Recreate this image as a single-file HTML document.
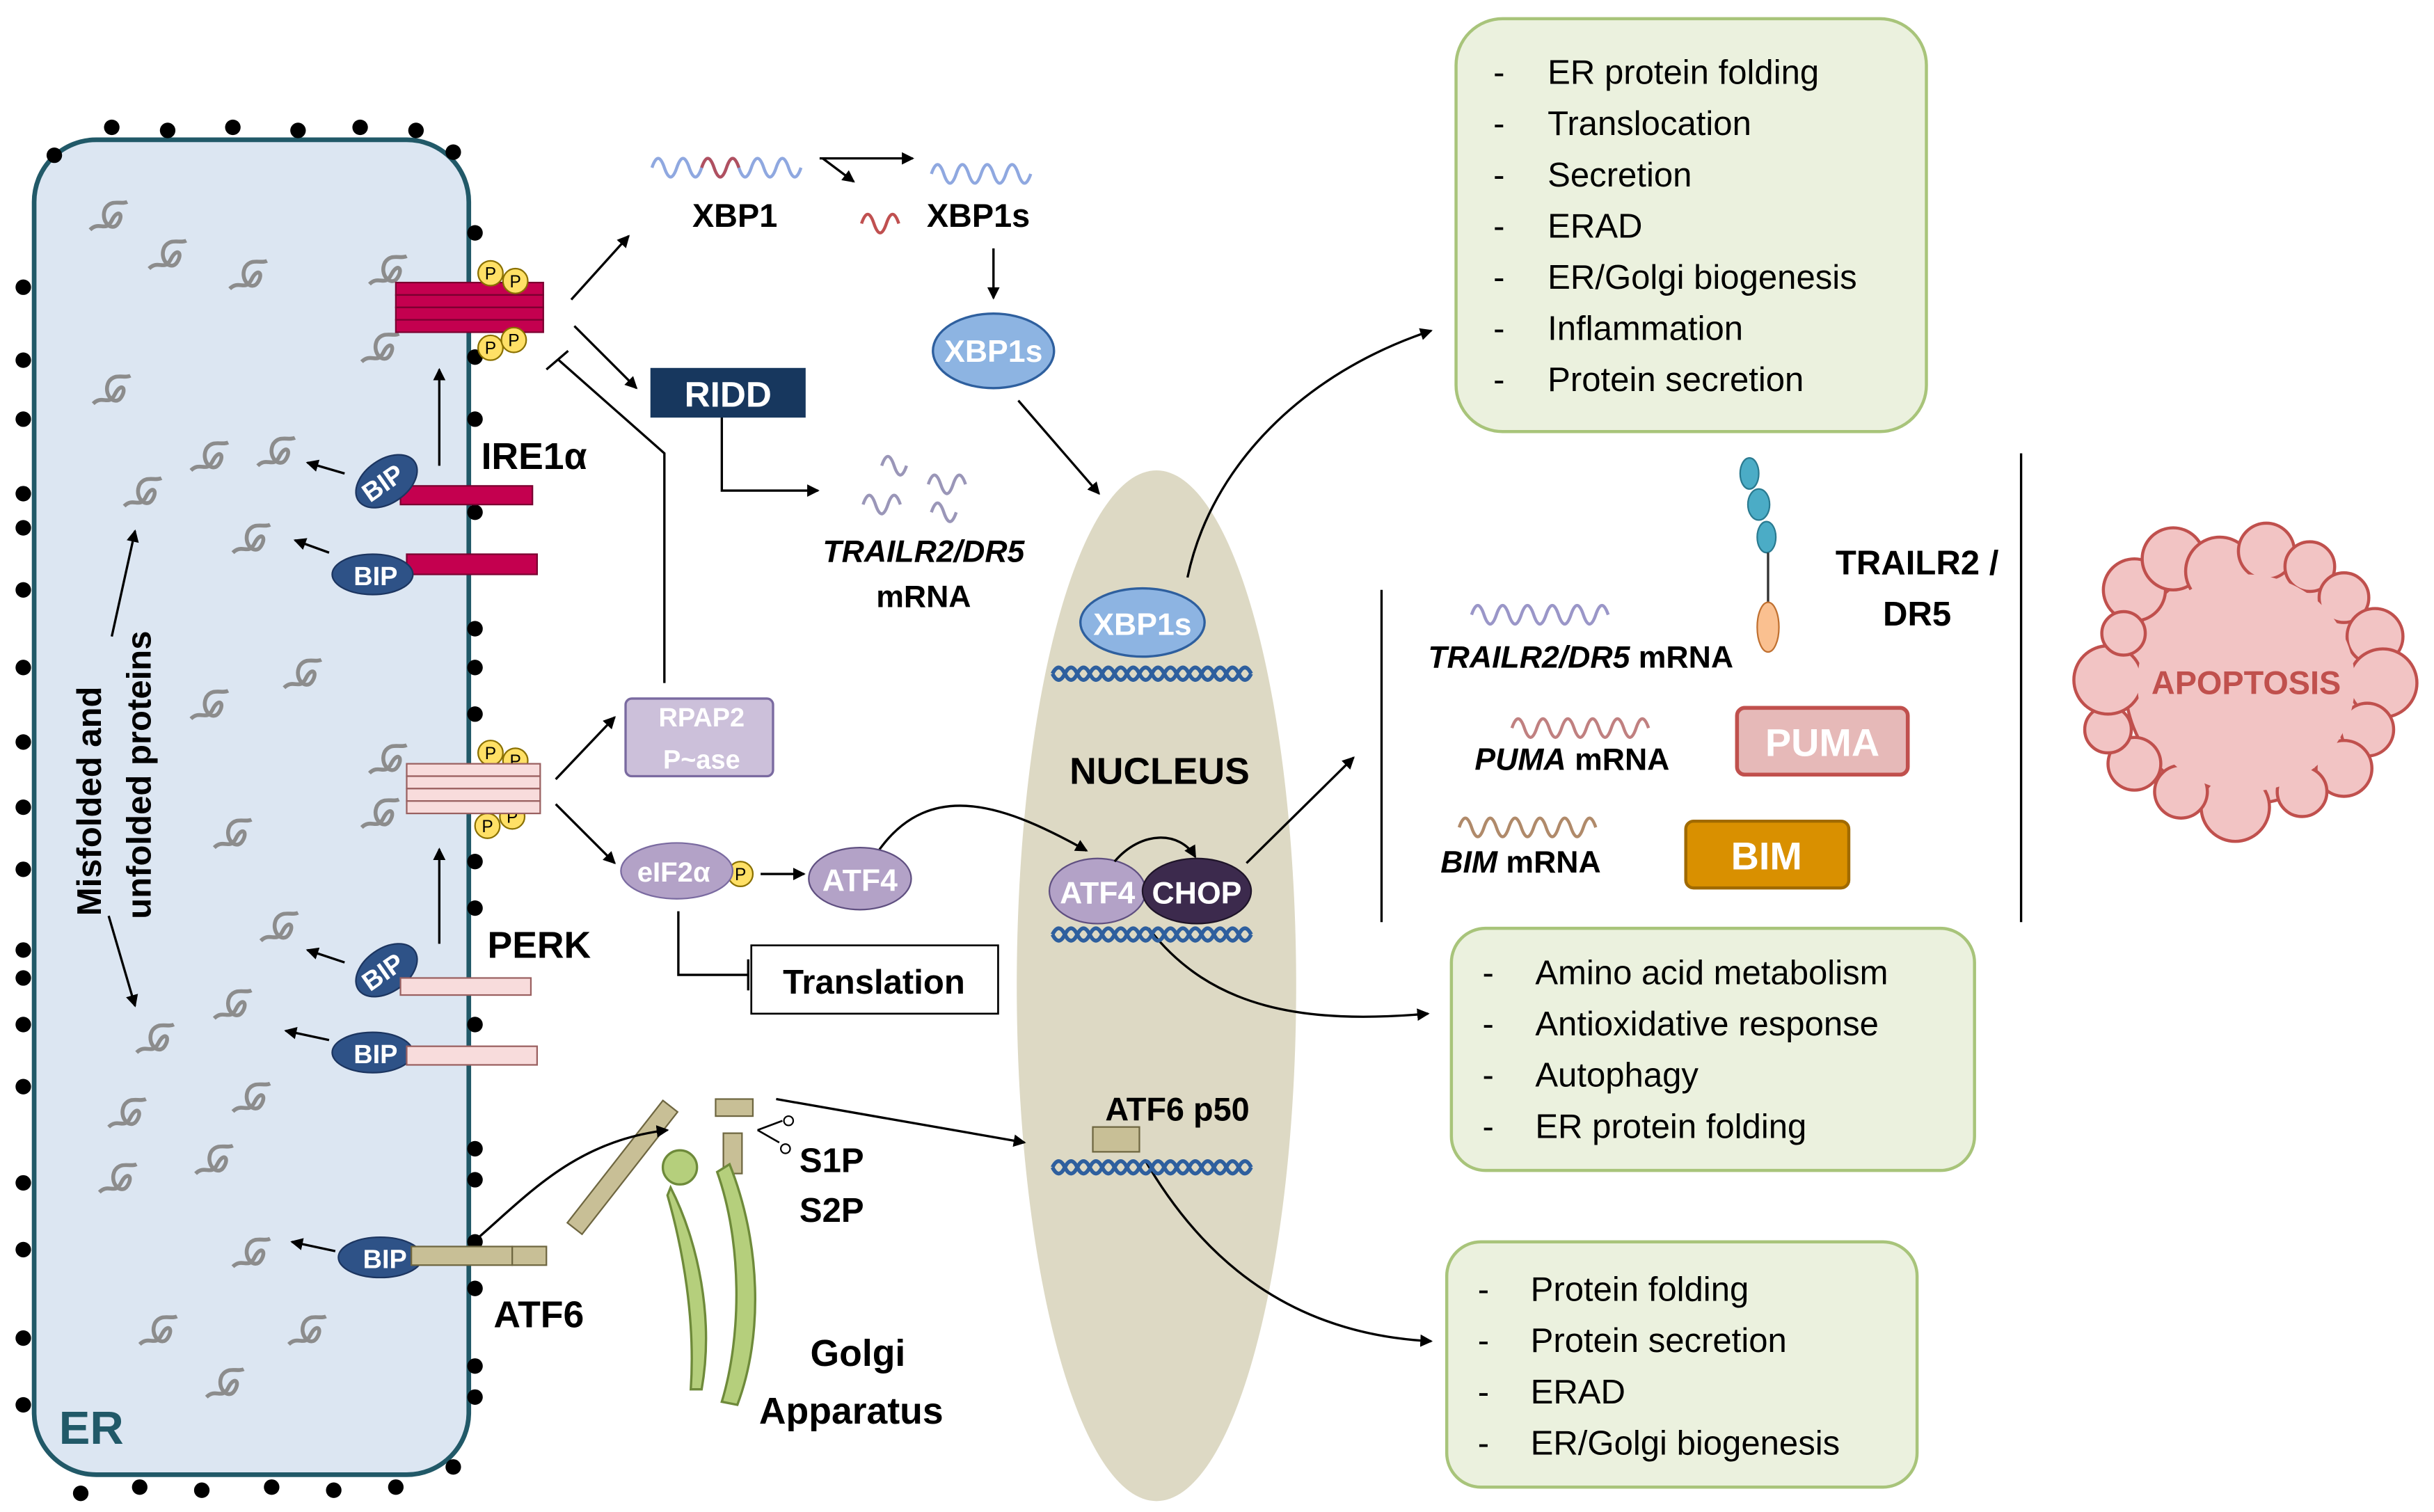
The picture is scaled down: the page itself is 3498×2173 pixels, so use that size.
<!DOCTYPE html>
<html><head><meta charset="utf-8"><style>
html,body{margin:0;padding:0;background:#fff;}
svg{display:block;}
text{font-family:"Liberation Sans",sans-serif;}
</style></head><body>
<svg width="3498" height="2173" viewBox="0 0 1568 974" xmlns="http://www.w3.org/2000/svg">
<defs>
<marker id="a" markerWidth="8" markerHeight="8" refX="7" refY="4" orient="auto" markerUnits="userSpaceOnUse"><path d="M0,0 L8,4 L0,8 z" fill="#000"/></marker>
<g id="sq"><path d="M-12,8 C-6,2 -2,10 2,2 C6,-6 10,-2 6,4 C2,10 -6,2 -2,-6 C2,-12 8,-8 12,-10" fill="none" stroke="#8c8c8c" stroke-width="2.5"/></g>
<g id="dna"><path d="M0,0 q4,-8 8,0 t8,0 t8,0 t8,0 t8,0 t8,0 t8,0 t8,0 t8,0 t8,0 t8,0 t8,0 t8,0 t8,0 t8,0 t8,0" fill="none" stroke="#2e5f9e" stroke-width="2.5"/><path d="M0,0 q4,8 8,0 t8,0 t8,0 t8,0 t8,0 t8,0 t8,0 t8,0 t8,0 t8,0 t8,0 t8,0 t8,0 t8,0 t8,0 t8,0" fill="none" stroke="#2e5f9e" stroke-width="2.5"/></g>
</defs>
<rect width="1568" height="974" fill="#fff"/>
<!-- Nucleus (behind arrows) -->
<ellipse cx="745" cy="635" rx="90" ry="332" fill="#ddd9c4"/>
<!-- ER -->
<rect x="22" y="90" width="280" height="860" rx="40" fill="#dce6f2" stroke="#215968" stroke-width="3"/>
<text x="38" y="930" font-size="30" font-weight="bold" fill="#215968">ER</text>
<g fill="#000">
<circle cx="35" cy="100" r="5"/><circle cx="72" cy="82" r="5"/><circle cx="108" cy="84" r="5"/><circle cx="150" cy="82" r="5"/><circle cx="192" cy="84" r="5"/><circle cx="232" cy="82" r="5"/><circle cx="268" cy="84" r="5"/><circle cx="292" cy="98" r="5"/>
<circle cx="15" cy="185" r="5"/><circle cx="15" cy="232" r="5"/><circle cx="15" cy="270" r="5"/><circle cx="15" cy="318" r="5"/><circle cx="15" cy="340" r="5"/><circle cx="15" cy="380" r="5"/><circle cx="15" cy="430" r="5"/><circle cx="15" cy="478" r="5"/><circle cx="15" cy="520" r="5"/><circle cx="15" cy="560" r="5"/><circle cx="15" cy="612" r="5"/><circle cx="15" cy="630" r="5"/><circle cx="15" cy="660" r="5"/><circle cx="15" cy="700" r="5"/><circle cx="15" cy="762" r="5"/><circle cx="15" cy="805" r="5"/><circle cx="15" cy="862" r="5"/><circle cx="15" cy="905" r="5"/>
<circle cx="306" cy="150" r="5"/><circle cx="306" cy="230" r="5"/><circle cx="306" cy="270" r="5"/><circle cx="306" cy="330" r="5"/><circle cx="306" cy="405" r="5"/><circle cx="306" cy="430" r="5"/><circle cx="306" cy="460" r="5"/><circle cx="306" cy="555" r="5"/><circle cx="306" cy="585" r="5"/><circle cx="306" cy="660" r="5"/><circle cx="306" cy="740" r="5"/><circle cx="306" cy="760" r="5"/><circle cx="306" cy="800" r="5"/><circle cx="306" cy="830" r="5"/><circle cx="306" cy="880" r="5"/><circle cx="306" cy="900" r="5"/>
<circle cx="52" cy="962" r="5"/><circle cx="90" cy="958" r="5"/><circle cx="130" cy="960" r="5"/><circle cx="175" cy="958" r="5"/><circle cx="215" cy="960" r="5"/><circle cx="255" cy="958" r="5"/><circle cx="292" cy="945" r="5"/>
</g>
<g>
<use href="#sq" x="70" y="140"/><use href="#sq" x="108" y="165"/><use href="#sq" x="160" y="178"/><use href="#sq" x="72" y="252"/><use href="#sq" x="135" y="295"/><use href="#sq" x="178" y="292"/><use href="#sq" x="92" y="318"/><use href="#sq" x="162" y="348"/><use href="#sq" x="195" y="435"/><use href="#sq" x="135" y="455"/><use href="#sq" x="150" y="538"/><use href="#sq" x="180" y="598"/><use href="#sq" x="150" y="648"/><use href="#sq" x="100" y="670"/><use href="#sq" x="162" y="708"/><use href="#sq" x="82" y="718"/><use href="#sq" x="138" y="748"/><use href="#sq" x="76" y="760"/><use href="#sq" x="162" y="808"/><use href="#sq" x="102" y="858"/><use href="#sq" x="198" y="858"/><use href="#sq" x="145" y="892"/>
<use href="#sq" x="250" y="175"/><use href="#sq" x="245" y="225"/><use href="#sq" x="250" y="490"/><use href="#sq" x="245" y="525"/>
</g>
<text transform="translate(65,590) rotate(-90)" font-size="22" font-weight="bold">Misfolded and</text>
<text transform="translate(97,592) rotate(-90)" font-size="22" font-weight="bold">unfolded proteins</text>
<line x1="72" y1="410" x2="87" y2="342" stroke="#000" stroke-width="1.5" marker-end="url(#a)"/>
<line x1="70" y1="590" x2="87" y2="648" stroke="#000" stroke-width="1.5" marker-end="url(#a)"/>
<!-- IRE1 -->
<g fill="#c4004f" stroke="#7a0030" stroke-width="1">
<rect x="255" y="182" width="95" height="8"/><rect x="255" y="190" width="95" height="8"/><rect x="255" y="198" width="95" height="8"/><rect x="255" y="206" width="95" height="8"/>
<rect x="258" y="313" width="85" height="12"/><rect x="262" y="357" width="84" height="13"/>
</g>
<g fill="#ffe066" stroke="#8a7000" stroke-width="1">
<circle cx="316" cy="176" r="8"/><circle cx="332" cy="181" r="8"/><circle cx="316" cy="224" r="8"/><circle cx="331" cy="219" r="8"/>
<circle cx="316" cy="485" r="8"/><circle cx="332" cy="490" r="8"/><circle cx="314" cy="532" r="8"/><circle cx="330" cy="526" r="8"/>
<circle cx="477" cy="563" r="8"/>
</g>
<g font-size="11" text-anchor="middle"><text x="316" y="180">P</text><text x="332" y="185">P</text><text x="316" y="228">P</text><text x="331" y="223">P</text><text x="316" y="489">P</text><text x="332" y="494">P</text><text x="314" y="536">P</text><text x="330" y="530">P</text><text x="477" y="567">P</text></g>
<!-- BIPs -->
<g fill="#2e5287" stroke="#1c3560" stroke-width="1">
<ellipse cx="249" cy="310" rx="22" ry="14" transform="rotate(-35 249 310)"/>
<ellipse cx="240" cy="370" rx="26" ry="13"/>
<ellipse cx="249" cy="625" rx="22" ry="14" transform="rotate(-35 249 625)"/>
<ellipse cx="240" cy="678" rx="26" ry="13"/>
<ellipse cx="245" cy="810" rx="27" ry="13"/>
</g>
<g fill="#fff" font-size="17" font-weight="bold" text-anchor="middle">
<text transform="translate(250,316) rotate(-35)">BIP</text><text x="242" y="377">BIP</text>
<text transform="translate(250,631) rotate(-35)">BIP</text><text x="242" y="685">BIP</text><text x="248" y="817">BIP</text>
</g>
<g stroke="#000" stroke-width="1.5" fill="none">
<line x1="222" y1="305" x2="198" y2="298" marker-end="url(#a)"/>
<line x1="212" y1="356" x2="190" y2="348" marker-end="url(#a)"/>
<line x1="222" y1="620" x2="198" y2="612" marker-end="url(#a)"/>
<line x1="212" y1="670" x2="184" y2="664" marker-end="url(#a)"/>
<line x1="216" y1="806" x2="188" y2="800" marker-end="url(#a)"/>
<line x1="283" y1="300" x2="283" y2="238" marker-end="url(#a)"/>
<line x1="283" y1="608" x2="283" y2="547" marker-end="url(#a)"/>
</g>
<text x="310" y="302" font-size="24" font-weight="bold">IRE1α</text>
<!-- PERK -->
<g fill="#f8dcdc" stroke="#9a6060" stroke-width="1">
<rect x="262" y="492" width="86" height="8"/><rect x="262" y="500" width="86" height="8"/><rect x="262" y="508" width="86" height="8"/><rect x="262" y="516" width="86" height="8"/>
<rect x="258" y="630" width="84" height="11"/><rect x="262" y="674" width="84" height="12"/>
</g>
<text x="314" y="617" font-size="24" font-weight="bold">PERK</text>
<!-- ATF6 -->
<g fill="#c8bf96" stroke="#6e6640" stroke-width="1">
<rect x="265" y="803" width="65" height="12"/><rect x="330" y="803" width="22" height="12"/>
<rect x="395" y="702" width="12" height="100" transform="rotate(38 401 752)"/>
<rect x="461" y="708" width="24" height="11"/><rect x="466" y="730" width="12" height="26"/>
</g>
<text x="318" y="855" font-size="24" font-weight="bold">ATF6</text>
<path d="M305,800 C340,770 370,735 430,728" fill="none" stroke="#000" stroke-width="1.5" marker-end="url(#a)"/>
<!-- Golgi -->
<g fill="#b5cf7c" stroke="#6e8a3a" stroke-width="1.5">
<circle cx="438" cy="752" r="11"/>
<path d="M432,765 C450,800 460,850 452,895 L445,895 C448,850 440,805 430,770 z"/>
<path d="M470,750 C490,800 492,860 475,905 L465,903 C478,860 478,800 462,755 z"/>
</g>
<text x="522" y="880" font-size="24" font-weight="bold">Golgi</text>
<text x="489" y="917" font-size="24" font-weight="bold">Apparatus</text>
<text x="515" y="755" font-size="22" font-weight="bold">S1P</text>
<text x="515" y="787" font-size="22" font-weight="bold">S2P</text>
<path d="M488,728 l16,-6 M488,728 l14,8" stroke="#000" stroke-width="1.2"/><circle cx="508" cy="722" r="3" fill="none" stroke="#000"/><circle cx="506" cy="740" r="3" fill="none" stroke="#000"/>
<line x1="500" y1="708" x2="660" y2="736" stroke="#000" stroke-width="1.5" marker-end="url(#a)"/>
<!-- arrows -->
<g stroke="#000" stroke-width="1.5" fill="none">
<line x1="368" y1="193" x2="405" y2="152" marker-end="url(#a)"/>
<line x1="370" y1="210" x2="410" y2="250" marker-end="url(#a)"/>
<line x1="528" y1="102" x2="588" y2="102" marker-end="url(#a)"/>
<path d="M530,102 L550,117" marker-end="url(#a)"/>
<line x1="640" y1="160" x2="640" y2="192" marker-end="url(#a)"/>
<line x1="656" y1="258" x2="708" y2="318" marker-end="url(#a)"/>
<path d="M465,268 L465,316 L527,316" marker-end="url(#a)"/>
<path d="M428,440 L428,292 L360,232"/><line x1="352" y1="238" x2="366" y2="226"/>
<line x1="358" y1="502" x2="396" y2="462" marker-end="url(#a)"/>
<line x1="358" y1="518" x2="396" y2="556" marker-end="url(#a)"/>
<line x1="490" y1="563" x2="518" y2="563" marker-end="url(#a)"/>
<path d="M437,587 L437,628 L482,628"/><line x1="482" y1="618" x2="482" y2="638"/>
<path d="M566,548 C600,500 650,520 700,548" marker-end="url(#a)"/>
<path d="M765,372 C780,300 840,240 922,213" marker-end="url(#a)"/>
<line x1="803" y1="556" x2="872" y2="488" marker-end="url(#a)"/>
<path d="M740,598 C780,650 840,660 920,653" marker-end="url(#a)"/>
<path d="M738,748 C780,820 840,860 922,864" marker-end="url(#a)"/>
</g>
<path d="M420,108 q4,-12 8,0 t8,0 t8,0 t8,0 t8,0 t8,0 t8,0 t8,0 t8,0 t8,0 t8,0 t8,0" fill="none" stroke="#8fa8e0" stroke-width="2"/>
<path d="M452,108 q4,-12 8,0 t8,0 t8,0" fill="none" stroke="#b05060" stroke-width="2"/>
<text x="446" y="146" font-size="21" font-weight="bold">XBP1</text>
<path d="M555,144 q4,-12 8,0 t8,0 t8,0" fill="none" stroke="#c05050" stroke-width="2"/>
<path d="M600,112 q4,-12 8,0 t8,0 t8,0 t8,0 t8,0 t8,0 t8,0 t8,0" fill="none" stroke="#8fa8e0" stroke-width="2"/>
<text x="597" y="146" font-size="21" font-weight="bold">XBP1s</text>
<ellipse cx="640" cy="226" rx="39" ry="24" fill="#8db4e2" stroke="#2e5f9e" stroke-width="1.5"/>
<text x="640" y="233" font-size="20" font-weight="bold" fill="#fff" text-anchor="middle">XBP1s</text>
<rect x="419" y="237" width="100" height="32" fill="#17375e"/>
<text x="469" y="262" font-size="23" font-weight="bold" fill="#fff" text-anchor="middle">RIDD</text>
<g fill="none" stroke="#9a96b8" stroke-width="2">
<path d="M568,300 q4,-12 8,0 t8,0"/><path d="M556,325 q4,-12 8,0 t8,0 t8,0"/><path d="M598,312 q4,-12 8,0 t8,0 t8,0"/><path d="M600,330 q4,-12 8,0 t8,0"/>
</g>
<text x="595" y="362" font-size="20" font-weight="bold" font-style="italic" text-anchor="middle">TRAILR2/DR5</text>
<text x="595" y="391" font-size="20" font-weight="bold" text-anchor="middle">mRNA</text>
<rect x="403" y="450" width="95" height="50" rx="4" fill="#ccc0da" stroke="#7a6aa0" stroke-width="1.5"/>
<text x="452" y="468" font-size="17" font-weight="bold" fill="#fff" text-anchor="middle">RPAP2</text>
<text x="452" y="495" font-size="17" font-weight="bold" fill="#fff" text-anchor="middle">P~ase</text>
<ellipse cx="436" cy="561" rx="36" ry="18" fill="#b3a2c7" stroke="#7a6aa0"/>
<text x="434" y="568" font-size="18" font-weight="bold" fill="#fff" text-anchor="middle">eIF2α</text>
<ellipse cx="554" cy="566" rx="33" ry="20" fill="#b3a2c7" stroke="#5f4f80"/>
<text x="554" y="574" font-size="20" font-weight="bold" fill="#fff" text-anchor="middle">ATF4</text>
<rect x="484" y="609" width="159" height="44" fill="#fff" stroke="#000" stroke-width="1.2"/>
<text x="563" y="640" font-size="22" font-weight="bold" text-anchor="middle">Translation</text>
<!-- Nucleus contents -->
<use href="#dna" x="678" y="434"/><use href="#dna" x="678" y="602"/><use href="#dna" x="678" y="752"/>
<ellipse cx="736" cy="401" rx="40" ry="22" fill="#8db4e2" stroke="#2e5f9e" stroke-width="1.5"/>
<text x="736" y="409" font-size="20" font-weight="bold" fill="#fff" text-anchor="middle">XBP1s</text>
<text x="747" y="505" font-size="24" font-weight="bold" text-anchor="middle">NUCLEUS</text>
<ellipse cx="707" cy="574" rx="31" ry="21" fill="#b3a2c7" stroke="#5f4f80"/>
<ellipse cx="771" cy="574" rx="35" ry="21" fill="#3c2a4d" stroke="#1e1428"/>
<text x="707" y="582" font-size="20" font-weight="bold" fill="#fff" text-anchor="middle">ATF4</text>
<text x="771" y="582" font-size="20" font-weight="bold" fill="#fff" text-anchor="middle">CHOP</text>
<path d="M718,555 C735,535 760,535 770,552" fill="none" stroke="#000" stroke-width="1.5" marker-end="url(#a)"/>
<text x="712" y="722" font-size="21" font-weight="bold">ATF6 p50</text>
<rect x="704" y="726" width="30" height="16" fill="#c8bf96" stroke="#6e6640"/>
<!-- green boxes -->
<g fill="#ebf1de" stroke="#a8c47a" stroke-width="2">
<rect x="938" y="12" width="303" height="266" rx="30"/>
<rect x="935" y="598" width="337" height="156" rx="22"/>
<rect x="932" y="800" width="303" height="158" rx="22"/>
</g>
<g font-size="22">
<text x="962" y="54">-</text><text x="997" y="54">ER protein folding</text>
<text x="962" y="87">-</text><text x="997" y="87">Translocation</text>
<text x="962" y="120">-</text><text x="997" y="120">Secretion</text>
<text x="962" y="153">-</text><text x="997" y="153">ERAD</text>
<text x="962" y="186">-</text><text x="997" y="186">ER/Golgi biogenesis</text>
<text x="962" y="219">-</text><text x="997" y="219">Inflammation</text>
<text x="962" y="252">-</text><text x="997" y="252">Protein secretion</text>
<text x="955" y="634">-</text><text x="989" y="634">Amino acid metabolism</text>
<text x="955" y="667">-</text><text x="989" y="667">Antioxidative response</text>
<text x="955" y="700">-</text><text x="989" y="700">Autophagy</text>
<text x="955" y="733">-</text><text x="989" y="733">ER protein folding</text>
<text x="952" y="838">-</text><text x="986" y="838">Protein folding</text>
<text x="952" y="871">-</text><text x="986" y="871">Protein secretion</text>
<text x="952" y="904">-</text><text x="986" y="904">ERAD</text>
<text x="952" y="937">-</text><text x="986" y="937">ER/Golgi biogenesis</text>
</g>
<!-- apoptosis side -->
<line x1="890" y1="380" x2="890" y2="594" stroke="#000" stroke-width="1.5"/>
<line x1="1302" y1="292" x2="1302" y2="594" stroke="#000" stroke-width="1.5"/>
<path d="M948,396 q4,-12 8,0 t8,0 t8,0 t8,0 t8,0 t8,0 t8,0 t8,0 t8,0 t8,0 t8,0" fill="none" stroke="#9a96c8" stroke-width="2"/>
<text x="920" y="430" font-size="20" font-weight="bold"><tspan font-style="italic">TRAILR2/DR5</tspan> mRNA</text>
<path d="M974,469 q4,-12 8,0 t8,0 t8,0 t8,0 t8,0 t8,0 t8,0 t8,0 t8,0 t8,0 t8,0" fill="none" stroke="#c08080" stroke-width="2"/>
<text x="950" y="496" font-size="20" font-weight="bold"><tspan font-style="italic">PUMA</tspan> mRNA</text>
<path d="M940,533 q4,-12 8,0 t8,0 t8,0 t8,0 t8,0 t8,0 t8,0 t8,0 t8,0 t8,0 t8,0" fill="none" stroke="#b08a6a" stroke-width="2"/>
<text x="928" y="562" font-size="20" font-weight="bold"><tspan font-style="italic">BIM</tspan> mRNA</text>
<rect x="1119" y="456" width="110" height="43" rx="5" fill="#e6b9b8" stroke="#c0504d" stroke-width="2.5"/>
<text x="1174" y="487" font-size="25" font-weight="bold" fill="#fff" text-anchor="middle">PUMA</text>
<rect x="1086" y="529" width="105" height="43" rx="5" fill="#d99000" stroke="#a06a00" stroke-width="2"/>
<text x="1138" y="560" font-size="25" font-weight="bold" fill="#fff" text-anchor="middle">BIM</text>
<g fill="#4bacc6" stroke="#2a7a90">
<ellipse cx="1127" cy="305" rx="6" ry="10"/><ellipse cx="1133" cy="325" rx="7" ry="10"/><ellipse cx="1138" cy="346" rx="6" ry="10"/>
</g>
<line x1="1139" y1="356" x2="1139" y2="388" stroke="#333" stroke-width="1.5"/>
<ellipse cx="1139" cy="404" rx="7" ry="16" fill="#fac090" stroke="#c07030"/>
<text x="1235" y="370" font-size="22" font-weight="bold" text-anchor="middle">TRAILR2 /</text>
<text x="1235" y="403" font-size="22" font-weight="bold" text-anchor="middle">DR5</text>
<g fill="#f2c4c4" stroke="#c0504d" stroke-width="2">
<circle cx="1447" cy="440" r="78"/>
<circle cx="1375" cy="380" r="20"/><circle cx="1400" cy="360" r="20"/><circle cx="1430" cy="368" r="22"/><circle cx="1460" cy="355" r="18"/><circle cx="1488" cy="365" r="16"/><circle cx="1510" cy="385" r="16"/><circle cx="1530" cy="410" r="18"/><circle cx="1535" cy="440" r="22"/><circle cx="1525" cy="470" r="17"/><circle cx="1510" cy="495" r="18"/><circle cx="1483" cy="510" r="16"/><circle cx="1440" cy="520" r="22"/><circle cx="1405" cy="510" r="17"/><circle cx="1375" cy="492" r="17"/><circle cx="1358" cy="470" r="15"/><circle cx="1358" cy="438" r="22"/><circle cx="1368" cy="408" r="14"/>
</g>
<circle cx="1447" cy="440" r="70" fill="#f2c4c4"/>
<text x="1447" y="447" font-size="21" font-weight="bold" fill="#c0504d" text-anchor="middle">APOPTOSIS</text>
</svg>
</body></html>
